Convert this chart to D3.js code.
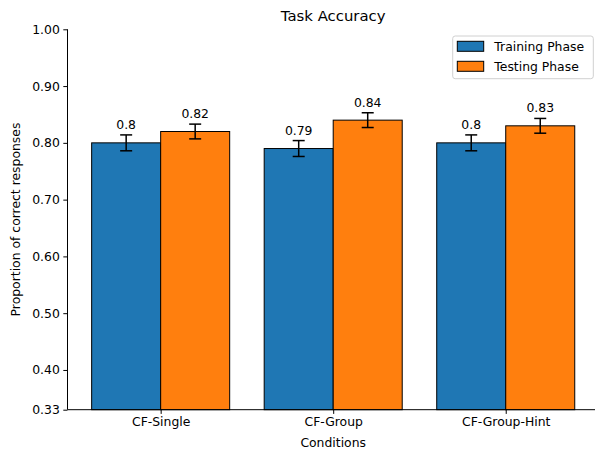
<!DOCTYPE html>
<html>
<head>
<meta charset="utf-8">
<script src="https://cdn.jsdelivr.net/npm/d3@7"></script>
<style>
  html, body { margin: 0; padding: 0; background: #fff; }
  svg { display: block; font-family: "DejaVu Sans", sans-serif; }
</style>
</head>
<body>
<svg id="chart" width="595" height="449"></svg>
<script>
const categories = ["CF-Single", "CF-Group", "CF-Group-Hint"];
const seriesNames = ["Training Phase", "Testing Phase"];
const trainingValues = [0.80, 0.79, 0.80];
const testingValues = [0.82, 0.84, 0.83];
const trainingErrors = [0.014, 0.014, 0.014];
const testingErrors = [0.013, 0.013, 0.013];
const yTickValues = [0.33, 0.40, 0.50, 0.60, 0.70, 0.80, 0.90, 1.00];
const colors = ["#1f77b4", "#ff7f0e"];

(function () {
const svg = d3.select("#chart");
const mLeft = 67.5, mRight = 598.9, mTop = 29.3, mBottom = 409.7;
const fs = 12.4, titleFs = 14.9;

const x = d3.scaleLinear().domain([-0.54, categories.length - 1 + 0.54]).range([mLeft, mRight]);
const y = d3.scaleLinear().domain([0.33, 1.0]).range([mBottom, mTop]);
const barW = 0.4;

const series = [
  { name: seriesNames[0], values: trainingValues, errs: trainingErrors, color: colors[0], off: -barW },
  { name: seriesNames[1], values: testingValues, errs: testingErrors, color: colors[1], off: 0 }
];

// bars
series.forEach(s => {
  const g = svg.append("g");
  g.selectAll("rect").data(s.values).join("rect")
    .attr("x", (d, i) => x(i + s.off))
    .attr("width", (d, i) => x(i + s.off + barW) - x(i + s.off))
    .attr("y", d => y(d))
    .attr("height", d => mBottom - y(d))
    .attr("fill", s.color)
    .attr("stroke", "#000")
    .attr("stroke-width", 1);
});

// error bars and labels
series.forEach(s => {
  const g = svg.append("g");
  s.values.forEach((v, i) => {
    const cx = x(i + s.off + barW / 2);
    const y1 = y(v + s.errs[i]), y2 = y(v - s.errs[i]);
    g.append("line").attr("x1", cx).attr("x2", cx).attr("y1", y1).attr("y2", y2)
      .attr("stroke", "#000").attr("stroke-width", 1.5);
    [y1, y2].forEach(yy => g.append("line").attr("x1", cx - 6).attr("x2", cx + 6)
      .attr("y1", yy).attr("y2", yy).attr("stroke", "#000").attr("stroke-width", 1.5));
    g.append("text").attr("x", cx).attr("y", y1 - 6)
      .attr("text-anchor", "middle").attr("font-size", fs).attr("fill", "#000")
      .text(String(+v.toFixed(2)));
  });
});

// y axis
const yAxis = d3.axisLeft(y).tickValues(yTickValues).tickFormat(d3.format(".2f")).tickSize(4.2).tickPadding(3.5);
const yg = svg.append("g").attr("transform", `translate(${mLeft},0)`).call(yAxis);
yg.select(".domain").attr("d", `M0,${mBottom}V${mTop}`).attr("stroke", "#000");
yg.selectAll("text").attr("font-size", fs).attr("font-family", "DejaVu Sans").attr("fill", "#000");

// x axis
const xAxis = d3.axisBottom(x).tickValues(d3.range(categories.length)).tickFormat(i => categories[i]).tickSize(4.2).tickPadding(3.5);
const xg = svg.append("g").attr("transform", `translate(0,${mBottom})`).call(xAxis);
xg.select(".domain").attr("d", `M${mLeft},0H${mRight}`).attr("stroke", "#000");
xg.selectAll("text").attr("font-size", fs).attr("font-family", "DejaVu Sans").attr("fill", "#000");

// title and labels
svg.append("text").attr("x", (mLeft + mRight) / 2).attr("y", 21)
  .attr("text-anchor", "middle").attr("font-size", titleFs).text("Task Accuracy");
svg.append("text").attr("x", (mLeft + mRight) / 2).attr("y", 447)
  .attr("text-anchor", "middle").attr("font-size", fs).text("Conditions");
svg.append("text").attr("transform", `translate(20,${(mTop + mBottom) / 2}) rotate(-90)`)
  .attr("text-anchor", "middle").attr("font-size", fs).text("Proportion of correct responses");

// legend
const lg = svg.append("g");
lg.append("rect").attr("x", 452.7).attr("y", 36).attr("width", 140.6).attr("height", 42.7)
  .attr("rx", 2.5).attr("fill", "#fff").attr("fill-opacity", 0.8).attr("stroke", "#d0d0d0").attr("stroke-width", 1);
series.forEach((s, k) => {
  const yy = 41.3 + k * 20;
  lg.append("rect").attr("x", 457.3).attr("y", yy).attr("width", 26.4).attr("height", 10)
    .attr("fill", s.color).attr("stroke", "#000").attr("stroke-width", 1);
  lg.append("text").attr("x", 494.3).attr("y", yy + 9.8).attr("font-size", fs).text(s.name);
});
})();
</script>
</body>
</html>
